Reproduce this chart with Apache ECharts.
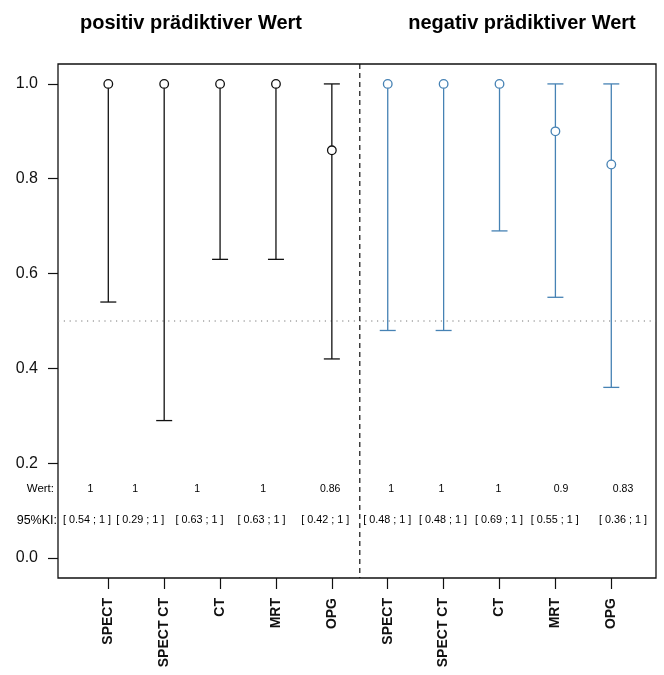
<!DOCTYPE html>
<html>
<head>
<meta charset="utf-8">
<script src="https://cdn.jsdelivr.net/npm/echarts@6/dist/echarts.min.js"></script>
<style>html,body{margin:0;padding:0;background:#fff}#c{width:664px;height:675px}</style>
</head>
<body>
<div id="c"></div>
<script>
// ---- data ----
const categories = ['SPECT', 'SPECT CT', 'CT', 'MRT', 'OPG'];
const ppvValues = [1, 1, 1, 1, 0.86];
const ppvLower  = [0.54, 0.29, 0.63, 0.63, 0.42];
const ppvUpper  = [1, 1, 1, 1, 1];
const npvValues = [1, 1, 1, 0.9, 0.83];
const npvLower  = [0.48, 0.48, 0.69, 0.55, 0.36];
const npvUpper  = [1, 1, 1, 1, 1];
const yTicks = [0, 0.2, 0.4, 0.6, 0.8, 1.0];
const panelTitles = ['positiv prädiktiver Wert', 'negativ prädiktiver Wert'];
const rowLabels = ['Wert:', '95%KI:'];
const refLevel = 0.5;       // horizontal dotted line
const panelSplit = 5.5;     // vertical dashed separator
// ---- layout (label anchor positions along x, in axis units) ----
const wertLabelX = [0.68, 1.48, 2.59, 3.77, 4.97, 6.06, 6.96, 7.98, 9.10, 10.21];
const kiLabelX   = [0.62, 1.57, 2.63, 3.74, 4.88, 5.99, 6.99, 7.99, 8.99, 10.21];
const wertRowY = 0.146, kiRowY = 0.08;

const FONT = '"Liberation Sans", Arial, Helvetica, sans-serif';
const BLUE = '#4682B4';

const allCats = categories.concat(categories);
const allV = ppvValues.concat(npvValues);
const allLo = ppvLower.concat(npvLower);
const allHi = ppvUpper.concat(npvUpper);
const xs = allCats.map((c, i) => i + 1);

const barData = xs.map((x, i) => [x, allV[i], allLo[i], allHi[i], i < 5 ? 0 : 1]);

function fmt(v) { return String(v); }
const wertTexts = allV.map(fmt);
const kiTexts = allLo.map((l, i) => '[ ' + fmt(l) + ' ; ' + fmt(allHi[i]) + ' ]');

const chart = echarts.init(document.getElementById('c'), null, { renderer: 'canvas' });

const option = {
  animation: false,
  backgroundColor: '#fff',
  textStyle: { fontFamily: FONT },
  grid: { left: 58, right: 8, top: 64, bottom: 97, show: true, borderColor: '#111', borderWidth: 1.3, backgroundColor: 'transparent' },
  xAxis: {
    type: 'value', min: 0.1, max: 10.8,
    splitLine: { show: false },
    axisLine: { show: false, onZero: false },
    axisTick: { show: true, customValues: xs, length: 11, lineStyle: { color: '#111', width: 1.2 } },
    axisLabel: {
      customValues: xs, rotate: 90, margin: 20,
      formatter: v => allCats[Math.round(v) - 1] || '',
      fontFamily: FONT, fontSize: 14, fontWeight: 'bold', color: '#111'
    }
  },
  yAxis: {
    type: 'value', min: -0.042, max: 1.042,
    splitLine: { show: false },
    axisLine: { show: false, onZero: false },
    axisTick: { show: true, customValues: yTicks, length: 10, lineStyle: { color: '#111', width: 1.2 } },
    axisLabel: {
      customValues: yTicks, margin: 20,
      formatter: v => Number(v).toFixed(1),
      fontFamily: FONT, fontSize: 16, color: '#111'
    }
  },
  graphic: [
    { type: 'text', x: 191, y: 23, style: { text: panelTitles[0], font: 'bold 20px ' + FONT, fill: '#000', textAlign: 'center', textVerticalAlign: 'middle' } },
    { type: 'text', x: 522, y: 23, style: { text: panelTitles[1], font: 'bold 20px ' + FONT, fill: '#000', textAlign: 'center', textVerticalAlign: 'middle' } }
  ],
  series: [
    {
      // reference lines
      type: 'custom', silent: true, clip: false,
      data: [[panelSplit, refLevel]],
      encode: { x: 0, y: 1 },
      renderItem: function (params, api) {
        const cs = params.coordSys;
        const xPix = api.coord([panelSplit, refLevel]);
        return {
          type: 'group',
          children: [
            { type: 'line', shape: { x1: cs.x, y1: xPix[1], x2: cs.x + cs.width, y2: xPix[1] },
              style: { stroke: '#777', lineWidth: 1, lineDash: [1.2, 4.6] } },
            { type: 'line', shape: { x1: xPix[0], y1: cs.y, x2: xPix[0], y2: cs.y + cs.height },
              style: { stroke: '#111', lineWidth: 1.2, lineDash: [5, 4] } }
          ]
        };
      }
    },
    {
      // error bars + points
      type: 'custom', silent: true, clip: false,
      data: barData,
      encode: { x: 0, y: 1 },
      renderItem: function (params, api) {
        const x = api.value(0), v = api.value(1), lo = api.value(2), hi = api.value(3);
        const col = api.value(4) === 0 ? '#111' : BLUE;
        const p = api.coord([x, v]);
        const pl = api.coord([x, lo]);
        const ph = api.coord([x, hi]);
        const hw = 8;
        const st = { stroke: col, lineWidth: 1.3, fill: null };
        const ch = [
          { type: 'line', shape: { x1: pl[0], y1: pl[1], x2: ph[0], y2: ph[1] }, style: st },
          { type: 'line', shape: { x1: pl[0] - hw, y1: pl[1], x2: pl[0] + hw, y2: pl[1] }, style: st }
        ];
        if (v < hi) ch.push({ type: 'line', shape: { x1: ph[0] - hw, y1: ph[1], x2: ph[0] + hw, y2: ph[1] }, style: st });
        ch.push({ type: 'circle', shape: { cx: p[0], cy: p[1], r: 4.3 }, style: { stroke: col, lineWidth: 1.3, fill: '#fff' } });
        return { type: 'group', children: ch };
      }
    },
    {
      // text rows
      type: 'custom', silent: true, clip: false,
      data: xs.map((x, i) => [wertLabelX[i], wertRowY]),
      encode: { x: 0, y: 1 },
      renderItem: function (params, api) {
        const i = params.dataIndex;
        const pw = api.coord([wertLabelX[i], wertRowY]);
        const pk = api.coord([kiLabelX[i], kiRowY]);
        const ch = [
          { type: 'text', x: pw[0], y: pw[1], style: { text: wertTexts[i], font: '10.5px ' + FONT, fill: '#000', textAlign: 'center', textVerticalAlign: 'middle' } },
          { type: 'text', x: pk[0], y: pk[1], style: { text: kiTexts[i], font: '10.8px ' + FONT, fill: '#000', textAlign: 'center', textVerticalAlign: 'middle' } }
        ];
        if (i === 0) {
          const cs = params.coordSys;
          ch.push({ type: 'text', x: cs.x - 4, y: pw[1], style: { text: rowLabels[0], font: '11.5px ' + FONT, fill: '#000', textAlign: 'right', textVerticalAlign: 'middle' } });
          ch.push({ type: 'text', x: cs.x - 1, y: pk[1], style: { text: rowLabels[1], font: '12.5px ' + FONT, fill: '#000', textAlign: 'right', textVerticalAlign: 'middle' } });
        }
        return { type: 'group', children: ch };
      }
    }
  ]
};
chart.setOption(option);
</script>
</body>
</html>
